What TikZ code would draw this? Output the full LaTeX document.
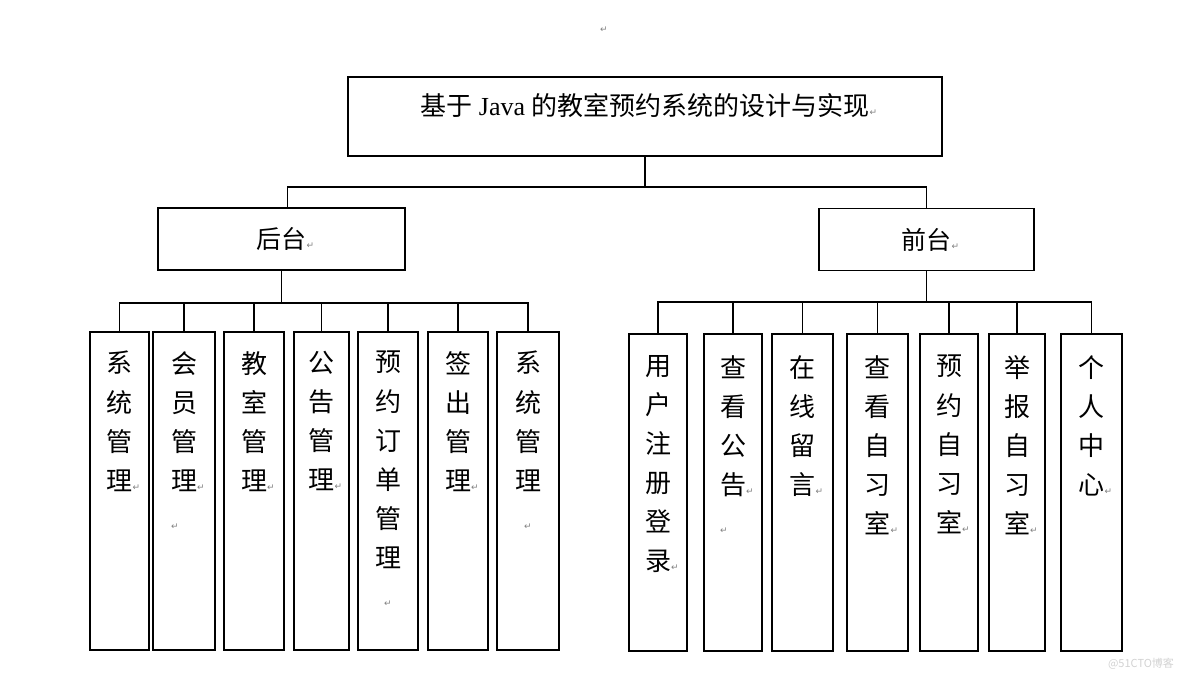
\documentclass[tikz,border=0pt]{standalone}
\usepackage{fontspec}
\setmainfont{Liberation Serif}
\newfontfamily\cjk{Noto Sans CJK SC}
\newfontfamily\symfont{DejaVu Sans}
\usetikzlibrary{positioning}
\newcommand{\retmark}{{\symfont\fontsize{9}{9}\selectfont\color{gray}↵}}

\tikzset{
  box/.style={draw, line width=1.8pt, inner sep=0pt},
  kidtxt/.style={align=center, inner sep=0pt, font=\cjk\fontsize{26}{39.1}\selectfont},
  link/.style={line width=1.8pt},
}

\begin{document}
\begin{tikzpicture}[x=1pt,y=-1pt]
    \useasboundingbox (0,0) rectangle (1184,679);
    \node (mark) at (604,30) {\retmark};

    % title and the two halves
    \node[box, minimum width=594, minimum height=79] (top) at (645,116.5) {};
    \node[font=\fontsize{26}{30}\selectfont] (title) at (645,106)
        {{\cjk 基于} Java {\cjk 的教室预约系统的设计与实现}\rlap{\retmark}};
    \node[box, minimum width=247, minimum height=62, font=\cjk\fontsize{25}{30}\selectfont]
        (back) at (281.5,239) {后台\rlap{\retmark}};
    \node[box, minimum width=215, minimum height=62, font=\cjk\fontsize{25}{30}\selectfont]
        (front) at (926.5,239.5) {前台\rlap{\retmark}};

    \path (top.south) ++(0,30) coordinate (hub);
    \draw[link] (top.south) -- (hub);
    \draw[link] ([xshift=6pt]back.north) |- (hub) -| (front.north);

    % back end modules
    \foreach \x/\w/\t [count=\i] in {
        119.5/59/{系\\统\\管\\理\rlap{\retmark}},
        184/62/{会\\员\\管\\理\rlap{\retmark}\\\makebox[26pt][l]{\retmark}},
        254/60/{教\\室\\管\\理\rlap{\retmark}},
        321.5/55/{公\\告\\管\\理\rlap{\retmark}},
        388/60/{预\\约\\订\\单\\管\\理\\\makebox[26pt][c]{\retmark}},
        458/60/{签\\出\\管\\理\rlap{\retmark}},
        528/62/{系\\统\\管\\理\\\makebox[26pt][c]{\retmark}}}{%
        \node[box, minimum width=\w, minimum height=318] (b\i) at (\x,491) {};
        \node[kidtxt, below=20pt of b\i.north] (bt\i) {\t};
        \draw[link] (back.south) -- ++(0,32) -| (b\i.north);}

    % front end modules
    \foreach \x/\w/\t [count=\i] in {
        658/58/{用\\户\\注\\册\\登\\录\rlap{\retmark}},
        733/58/{查\\看\\公\\告\rlap{\retmark}\\\makebox[26pt][l]{\retmark}},
        802.5/61/{在\\线\\留\\言\rlap{\retmark}},
        877.5/61/{查\\看\\自\\习\\室\rlap{\retmark}},
        949/58/{预\\约\\自\\习\\室\rlap{\retmark}},
        1017/56/{举\\报\\自\\习\\室\rlap{\retmark}},
        1091.5/61/{个\\人\\中\\心\rlap{\retmark}}}{%
        \node[box, minimum width=\w, minimum height=317] (f\i) at (\x,492.5) {};
        \node[kidtxt, below=22pt of f\i.north] (ft\i) {\t};
        \draw[link] (front.south) -- ++(0,31) -| (f\i.north);}

    \node[text=gray!35, font=\cjk\fontsize{11}{11}\selectfont] (wm) at (1141,664) {@51CTO博客};
\end{tikzpicture}
\end{document}
